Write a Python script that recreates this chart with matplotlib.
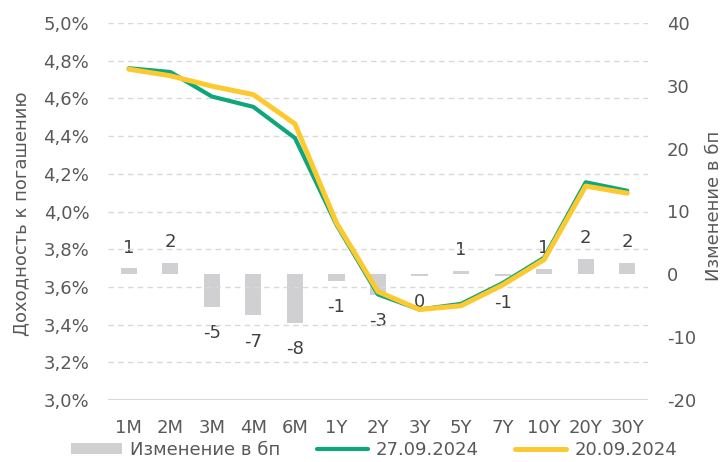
import matplotlib
matplotlib.use('Agg')
import matplotlib.pyplot as plt
from matplotlib.ticker import FuncFormatter
import numpy as np

# categories (tenors)
tenors = ['1M', '2M', '3M', '4M', '6M', '1Y', '2Y', '3Y', '5Y', '7Y', '10Y', '20Y', '30Y']

# yields, %
ylds_2709 = [4.76, 4.74, 4.61, 4.555, 4.39, 3.93, 3.56, 3.48, 3.51, 3.62, 3.755, 4.155, 4.11]
ylds_2009 = [4.755, 4.72, 4.665, 4.62, 4.465, 3.94, 3.575, 3.48, 3.50, 3.61, 3.745, 4.135, 4.097]

# change, bp (bar heights and shown labels)
chg_bp = [0.95, 1.8, -5.2, -6.5, -7.7, -1.0, -3.3, -0.2, 0.6, -0.3, 0.9, 2.4, 1.8]
chg_labels = ['1', '2', '-5', '-7', '-8', '-1', '-3', '0', '1', '-1', '1', '2', '2']

# colors
c_bar = '#d0d0d2'
c_green = '#0ea67a'
c_yellow = '#fcca30'
c_text = '#595959'
c_grid = '#d9d9d9'

fs = 13
plt.rcParams['font.family'] = ['DejaVu Sans']
plt.rcParams['font.size'] = fs
plt.rcParams['axes.unicode_minus'] = False

fig = plt.figure(figsize=(7.26, 4.62), dpi=100)
ax = fig.add_axes([108 / 726, 1 - 400 / 462, 540 / 726, 377 / 462])
ax_r = ax.twinx()

x = np.arange(len(tenors))

# bars on right axis
bars = ax_r.bar(x, chg_bp, width=0.39, color=c_bar, zorder=1, label='Изменение в бп')
for xi, v, lbl in zip(x, chg_bp, chg_labels):
    off = 15 if v > 0 else -19
    ax_r.annotate(lbl, xy=(xi, v), xytext=(0, off), textcoords='offset points',
                  ha='center', va='center', fontsize=fs, color='#404040')

ax_r.set_ylim(-20, 40)
ax_r.set_yticks(np.arange(-20, 41, 10))
ax_r.set_ylabel('Изменение в бп', color=c_text, fontsize=fs)
ax_r.yaxis.set_label_coords((705 - 108) / 540, 0.515)

# lines on left axis: bring ax in front of ax_r
ax.set_zorder(ax_r.get_zorder() + 1)
ax.patch.set_visible(False)
ln1, = ax.plot(x, ylds_2709, color=c_green, lw=3.0, solid_joinstyle='round',
               solid_capstyle='round', label='27.09.2024', zorder=3)
ln2, = ax.plot(x, ylds_2009, color=c_yellow, lw=3.6, solid_joinstyle='round',
               solid_capstyle='round', label='20.09.2024', zorder=4)

ax.set_xlim(-0.5, len(tenors) - 0.5)
ax.set_ylim(3.0, 5.0)
ax.set_yticks(np.arange(3.0, 5.01, 0.2))
ax.yaxis.set_major_formatter(FuncFormatter(lambda v, p: '{:.1f}%'.format(v).replace('.', ',')))
ax.set_xticks(x)
ax.set_xticklabels(tenors)
ax.set_ylabel('Доходность к погашению', color=c_text, fontsize=fs)
ax.yaxis.set_label_coords((30 - 108) / 540, 0.495)

# grid (left axis)
for v in np.arange(3.2, 5.01, 0.2):
    ax.axhline(v, color=c_grid, lw=1.0, ls=(0, (4, 3)), zorder=0)
ax.axhline(3.0, color=c_grid, lw=1.5, zorder=0)

for a in (ax, ax_r):
    for s in a.spines.values():
        s.set_visible(False)
    a.tick_params(length=0, colors=c_text, labelsize=fs)
ax.tick_params(axis='y', pad=13.5)
ax.tick_params(axis='x', pad=13.5)
ax_r.tick_params(axis='y', pad=13.5)

fig.legend(handles=[bars, ln1, ln2], loc='center', bbox_to_anchor=(374 / 726, 12 / 462),
           ncol=3, frameon=False, fontsize=fs, handlelength=2.83, handleheight=0.55,
           columnspacing=2.0, handletextpad=0.45, labelcolor=c_text)

fig.savefig('out.png', dpi=100)
